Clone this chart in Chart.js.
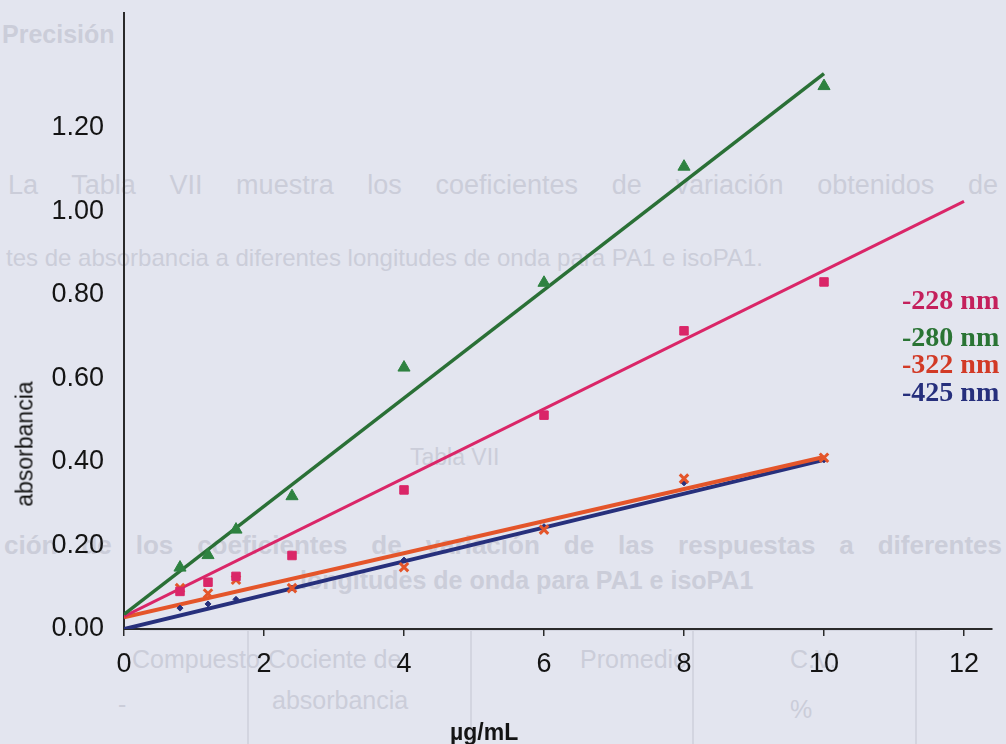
<!DOCTYPE html>
<html>
<head>
<meta charset="utf-8">
<script src="https://cdn.jsdelivr.net/npm/chart.js@4.4.1/dist/chart.umd.min.js"></script>
<style>
  body { margin: 0; background: #e3e5ef; }
  #wrap { position: relative; width: 1006px; height: 744px; overflow: hidden; background: #e3e5ef; }
  #wrap canvas { position: absolute; left: 0; top: 0; }
  .ghost { position: absolute; color: #cbcdd9; font-family: 'Liberation Sans', Arial, sans-serif; font-size: 25px; white-space: nowrap; }
  .gline { position: absolute; background: #d3d5e0; }
  .wl { position: absolute; left: 902px; font-family: 'Liberation Serif', 'Times New Roman', serif; font-weight: bold; font-size: 28px; line-height: 28px; white-space: nowrap; }
  #ytitle { position: absolute; left: 25px; top: 444px; transform: translate(-50%, -50%) rotate(-90deg);
            font-family: 'Liberation Sans', Arial, sans-serif; font-size: 23px; color: #151515; white-space: nowrap; }
  #xtitle { position: absolute; left: 450px; top: 720px; font-family: 'Liberation Sans', Arial, sans-serif;
            font-size: 23px; line-height: 24px; font-weight: bold; color: #141414; white-space: nowrap; }
</style>
</head>
<body>
<div id="wrap">
  <!-- faint text showing through from the scanned page -->
  <div class="ghost" style="left:2px;top:20px;font-weight:bold;font-size:25px;">Precisión</div>
  <div class="ghost" style="left:8px;top:170px;width:990px;text-align:justify;text-align-last:justify;font-size:27px;">La Tabla VII muestra los coeficientes de variación obtenidos de</div>
  <div class="ghost" style="left:6px;top:244px;font-size:24px;">tes de absorbancia a diferentes longitudes de onda para PA1 e isoPA1.</div>
  <div class="ghost" style="left:410px;top:444px;font-size:23px;">Tabla VII</div>
  <div class="ghost" style="left:4px;top:530px;width:998px;text-align:justify;text-align-last:justify;font-size:26px;font-weight:bold;">ción de los coeficientes de variación de las respuestas a diferentes</div>
  <div class="ghost" style="left:300px;top:566px;font-size:25px;font-weight:bold;">longitudes de onda para PA1 e isoPA1</div>
  <div class="gline" style="left:140px;top:629px;width:800px;height:2px;"></div>
  <div class="gline" style="left:247px;top:629px;width:2px;height:116px;"></div>
  <div class="gline" style="left:470px;top:629px;width:2px;height:116px;"></div>
  <div class="gline" style="left:692px;top:629px;width:2px;height:116px;"></div>
  <div class="gline" style="left:915px;top:629px;width:2px;height:116px;"></div>
  <div class="ghost" style="left:132px;top:645px;">Compuesto</div>
  <div class="ghost" style="left:268px;top:645px;">Cociente de</div>
  <div class="ghost" style="left:272px;top:686px;">absorbancia</div>
  <div class="ghost" style="left:580px;top:645px;">Promedio</div>
  <div class="ghost" style="left:790px;top:645px;">C.V.</div>
  <div class="ghost" style="left:790px;top:695px;">%</div>
  <div class="ghost" style="left:118px;top:690px;">-</div>

  <canvas id="chart" width="1006" height="744"></canvas>

  <div id="ytitle">absorbancia</div>
  <div id="xtitle">µg/mL</div>
  <div class="wl" style="top:286px;color:#c4205c;">-228 nm</div>
  <div class="wl" style="top:323px;color:#2a7434;">-280 nm</div>
  <div class="wl" style="top:350px;color:#d23a26;">-322 nm</div>
  <div class="wl" style="top:378px;color:#262f7c;">-425 nm</div>
</div>

<script>
/* ── Data ───────────────────────────────────────────────────────────────── */
const conc   = [0.8, 1.2, 1.6, 2.4, 4, 6, 8, 10];          // µg/mL
const abs228 = [0.090, 0.112, 0.126, 0.176, 0.333, 0.512, 0.714, 0.831];
const abs280 = [0.147, 0.177, 0.238, 0.318, 0.626, 0.829, 1.107, 1.300];
const abs322 = [0.098, 0.085, 0.118, 0.098, 0.148, 0.238, 0.360, 0.410];
const abs425 = [0.050, 0.060, 0.071, 0.098, 0.165, 0.245, 0.350, 0.405];

// regression line ends: [x0, x1] and [y0, y1]
const fit228X = [0, 12], fit228Y = [0.030, 1.024];
const fit280X = [0, 10], fit280Y = [0.035, 1.330];
const fit322X = [0, 10], fit322Y = [0.028, 0.412];
const fit425X = [0, 10], fit425Y = [0.000, 0.405];

const xTicks = [0, 2, 4, 6, 8, 10, 12];
const yTicks = [0, 0.2, 0.4, 0.6, 0.8, 1.0, 1.2];

const COL = {
  nm228: '#da2668',
  nm280: '#2a7036',
  nm322: '#e4552a',
  nm425: '#27307c',
  axis : '#2a2a2a',
  text : '#141414',
};

const pts = ys => conc.map((x, i) => ({ x, y: ys[i] }));
const seg = (xs, ys) => xs.map((x, i) => ({ x, y: ys[i] }));

const markerSet = (label, ys, color, style, r) => ({
  label, data: pts(ys), showLine: false,
  pointStyle: style, pointRadius: r,
  pointBackgroundColor: color, pointBorderColor: color, pointBorderWidth: style === 'crossRot' ? 3 : 1,
});
const fitSet = (label, xs, ys, color, w) => ({
  label, data: seg(xs, ys), showLine: true, pointRadius: 0,
  borderColor: color, borderWidth: w, fill: false, tension: 0,
});

// drop the label padding Chart.js reserves, so the plot box sits exactly
const noPad = s => { s.paddingTop = 0; s.paddingBottom = 0; s.paddingLeft = 0; s.paddingRight = 0; };

new Chart(document.getElementById('chart'), {
  type: 'scatter',
  data: {
    datasets: [
      markerSet('280 nm', abs280, '#2e8240', 'triangle', 7),
      markerSet('228 nm', abs228, COL.nm228, 'rect', 6),
      markerSet('322 nm', abs322, COL.nm322, 'crossRot', 6),
      markerSet('425 nm', abs425, COL.nm425, 'rectRot', 3),
      fitSet('fit 280', fit280X, fit280Y, COL.nm280, 3.5),
      fitSet('fit 228', fit228X, fit228Y, COL.nm228, 3),
      fitSet('fit 322', fit322X, fit322Y, COL.nm322, 4),
      fitSet('fit 425', fit425X, fit425Y, COL.nm425, 4),
    ],
  },
  options: {
    responsive: false,
    animation: false,
    layout: { padding: { left: 0, right: 14, top: 13, bottom: 0 } },
    plugins: { legend: { display: false }, tooltip: { enabled: false } },
    scales: {
      x: {
        type: 'linear', min: 0, max: 12.4,
        afterBuildTicks: s => { s.ticks = xTicks.map(v => ({ value: v })); },
        afterFit: s => { s.height = 115; noPad(s); },
        grid: { drawOnChartArea: false, drawTicks: true, tickLength: 7, color: COL.axis, lineWidth: 1.5 },
        border: { color: COL.axis, width: 2 },
        ticks: { color: COL.text, padding: 12, maxRotation: 0,
                 font: { family: 'Liberation Sans', size: 27 } },
      },
      y: {
        type: 'linear', min: 0, max: 1.475,
        afterBuildTicks: s => { s.ticks = yTicks.map(v => ({ value: v })); },
        afterFit: s => { s.width = 124; noPad(s); },
        grid: { drawOnChartArea: false, drawTicks: false },
        border: { color: COL.axis, width: 2 },
        ticks: { color: COL.text, padding: 20, callback: v => v.toFixed(2),
                 font: { family: 'Liberation Sans', size: 27 } },
      },
    },
  },
});
</script>
</body>
</html>
